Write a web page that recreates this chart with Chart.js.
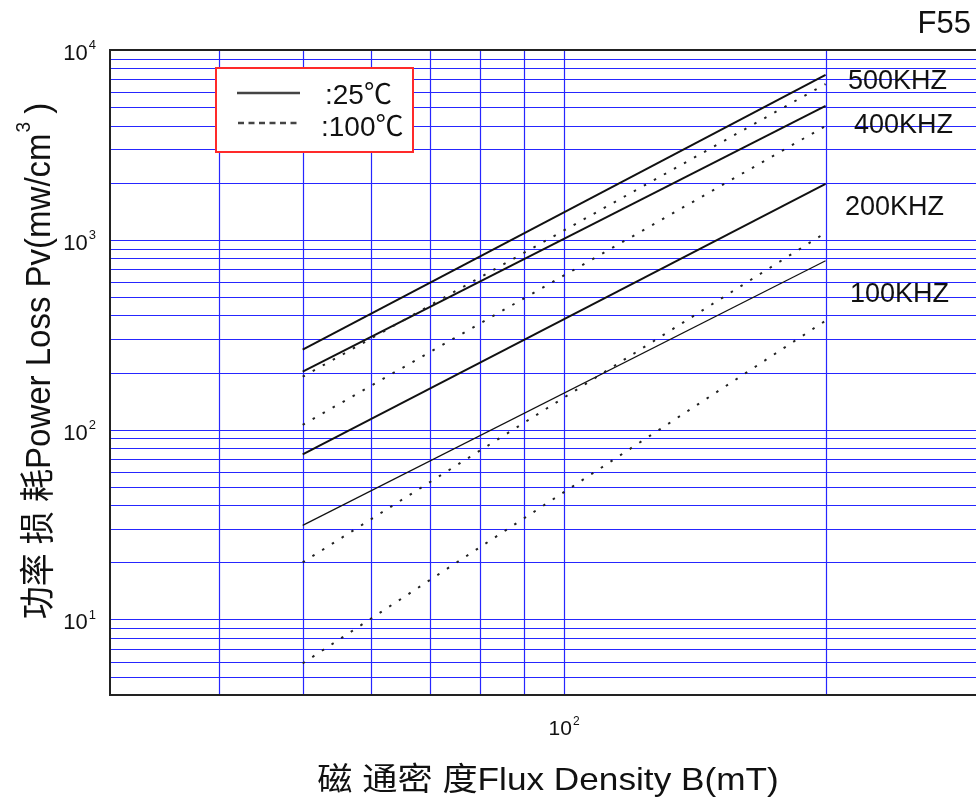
<!DOCTYPE html>
<html>
<head>
<meta charset="utf-8">
<script src="https://cdn.jsdelivr.net/npm/chart.js@4/dist/chart.umd.min.js"></script>
<style>
  html, body { margin: 0; padding: 0; background: #fff; }
  #wrap { width: 976px; height: 803px; position: relative; }
</style>
</head>
<body>
<div id="wrap"><canvas id="grafico"></canvas></div>
<script>
// ==================== DATOS ====================
const fluxB = [50, 200]; // mT

// 25°C (linea continua)
const pv500k_25C = [264, 7390];
const pv400k_25C = [202, 5075];
const pv200k_25C = [74, 1970];
const pv100k_25C = [31.3, 776];

// 100°C (punteada)
const pv500k_100C = [190, 6620];
const pv400k_100C = [106, 3980];
const pv200k_100C = [20, 1090];
const pv100k_100C = [5.87, 375];

const freqLabels = ["500KHZ", "400KHZ", "200KHZ", "100KHZ"];
const legendLabels = [":25\u2103", ":100\u2103"];
const materialName = "F55";

const xGridValues = [40, 50, 60, 70, 80, 90, 100, 200];
const yGridValues = [4, 5, 6, 7, 8, 9,
  10, 20, 30, 40, 50, 60, 70, 80, 90,
  100, 200, 300, 400, 500, 600, 700, 800, 900,
  1000, 2000, 3000, 4000, 5000, 6000, 7000, 8000, 9000, 10000];
const xTickValues = [100];
const xTickBase = ["10"];
const xTickExp = ["2"];
const yTickValues = [10, 100, 1000, 10000];
const yTickBase = ["10", "10", "10", "10"];
const yTickExp = ["1", "2", "3", "4"];

const xTitleText = "磁 通密 度Flux Density B(mT)";
const yTitleText = "功率 损 耗Power Loss Pv(mw/cm";

// ==================== ESTILO ====================
const FONT = "'Liberation Sans', Arial, 'Noto Sans CJK SC', sans-serif";
const GRID = "#2626ff";
const INK = "#111";

function pts(ys) {
  return fluxB.map((b, i) => ({ x: b, y: ys[i] }));
}

function solid(data, w) {
  return { data: pts(data), showLine: true, borderColor: INK, borderWidth: w, pointRadius: 0, fill: false };
}
function dotted(data) {
  return { data: pts(data), showLine: true, borderColor: "#222", borderWidth: 2, borderDash: [2.5, 9], pointRadius: 0, fill: false };
}

// dibuja "10" con exponente
function drawPow(ctx, base, exp, x, y, size, expSize, align) {
  ctx.font = size + "px " + FONT;
  const wb = ctx.measureText(base).width;
  ctx.font = expSize + "px " + FONT;
  const we = ctx.measureText(exp).width;
  let x0 = x;
  if (align === "right") x0 = x - wb - we - 1;
  if (align === "center") x0 = x - (wb + we + 1) / 2;
  ctx.textAlign = "left";
  ctx.textBaseline = "alphabetic";
  ctx.font = size + "px " + FONT;
  ctx.fillText(base, x0, y);
  ctx.font = expSize + "px " + FONT;
  ctx.fillText(exp, x0 + wb + 1, y - size * 0.48);
}

// rejilla azul con los valores de las escalas
const rejilla = {
  id: "rejilla",
  beforeDatasetsDraw(chart) {
    const ctx = chart.ctx;
    const a = chart.chartArea;
    const xs = chart.scales.x, ys = chart.scales.y;
    ctx.save();
    ctx.strokeStyle = GRID;
    ctx.lineWidth = 1.2;
    ctx.beginPath();
    xGridValues.forEach(v => {
      const px = Math.round(xs.getPixelForValue(v)) + 0.5;
      ctx.moveTo(px, a.top);
      ctx.lineTo(px, a.bottom);
    });
    yGridValues.forEach(v => {
      const py = Math.round(ys.getPixelForValue(v)) + 0.5;
      ctx.moveTo(a.left, py);
      ctx.lineTo(a.right, py);
    });
    ctx.stroke();
    ctx.restore();
  }
};

const decoraciones = {
  id: "decoraciones",
  afterDraw(chart) {
    const ctx = chart.ctx;
    const a = chart.chartArea;
    const xs = chart.scales.x, ys = chart.scales.y;
    ctx.save();
    ctx.fillStyle = "#111";

    // marco
    ctx.strokeStyle = "#222";
    ctx.lineWidth = 2;
    ctx.beginPath();
    ctx.moveTo(a.right, a.top);
    ctx.lineTo(a.left, a.top);
    ctx.lineTo(a.left, a.bottom);
    ctx.lineTo(a.right, a.bottom);
    ctx.stroke();

    // ticks Y
    yTickValues.forEach((v, i) => {
      const py = ys.getPixelForValue(v);
      drawPow(ctx, yTickBase[i], yTickExp[i], 96, py + 10, 22, 13, "right");
    });
    // ticks X
    xTickValues.forEach((v, i) => {
      const px = xs.getPixelForValue(v);
      drawPow(ctx, xTickBase[i], xTickExp[i], px, 735, 21, 12, "center");
    });

    // titulo X
    ctx.save();
    ctx.translate(548, 790);
    ctx.scale(1.1, 1);
    ctx.font = "32px " + FONT;
    ctx.textAlign = "center";
    ctx.textBaseline = "alphabetic";
    ctx.fillText(xTitleText, 0, 0);
    ctx.restore();

    // titulo Y
    ctx.save();
    ctx.translate(50, 361);
    ctx.rotate(-Math.PI / 2);
    ctx.scale(1, 1.07);
    ctx.font = "33px " + FONT;
    const w1 = ctx.measureText(yTitleText).width;
    ctx.font = "19px " + FONT;
    const w2 = ctx.measureText("3").width;
    ctx.font = "33px " + FONT;
    const w3 = ctx.measureText(" )").width;
    let x0 = -(w1 + w2 + w3) / 2;
    ctx.textAlign = "left";
    ctx.fillText(yTitleText, x0, 0);
    ctx.font = "19px " + FONT;
    ctx.fillText("3", x0 + w1 + 1, -19);
    ctx.font = "33px " + FONT;
    ctx.fillText(" )", x0 + w1 + w2, 0);
    ctx.restore();

    // leyenda
    ctx.fillStyle = "#fff";
    ctx.fillRect(216, 68, 197, 84);
    ctx.strokeStyle = "#ff2a2a";
    ctx.lineWidth = 2;
    ctx.strokeRect(216, 68, 197, 84);
    ctx.strokeStyle = "#444";
    ctx.lineWidth = 2.5;
    ctx.beginPath();
    ctx.moveTo(237, 93); ctx.lineTo(300, 93);
    ctx.stroke();
    ctx.setLineDash([6, 4.5]);
    ctx.beginPath();
    ctx.moveTo(238, 123); ctx.lineTo(300, 123);
    ctx.stroke();
    ctx.setLineDash([]);
    ctx.fillStyle = "#111";
    ctx.font = "28px " + FONT;
    ctx.textAlign = "left";
    ctx.fillText(legendLabels[0], 325, 104);
    ctx.fillText(legendLabels[1], 321, 136);

    // etiquetas de frecuencia
    const lx = [848, 854, 845, 850];
    const ly = [89, 133, 215, 302];
    ctx.font = "27px " + FONT;
    freqLabels.forEach((t, i) => ctx.fillText(t, lx[i], ly[i]));

    // material
    ctx.font = "31px " + FONT;
    ctx.textAlign = "right";
    ctx.fillText(materialName, 971, 33);

    ctx.restore();
  }
};

// ==================== GRAFICO ====================
document.addEventListener("DOMContentLoaded", () => {
  const ctx = document.getElementById("grafico").getContext("2d");
  new Chart(ctx, {
    type: "scatter",
    data: {
      datasets: [
        dotted(pv500k_100C),
        dotted(pv400k_100C),
        dotted(pv200k_100C),
        dotted(pv100k_100C),
        solid(pv500k_25C, 2),
        solid(pv400k_25C, 2),
        solid(pv200k_25C, 2),
        solid(pv100k_25C, 1.2)
      ]
    },
    options: {
      responsive: true,
      maintainAspectRatio: false,
      animation: false,
      layout: { padding: { top: 50, left: 0, right: 0, bottom: 0 } },
      plugins: { legend: { display: false }, tooltip: { enabled: false } },
      scales: {
        x: {
          type: "logarithmic",
          min: 30,
          max: 298,
          afterBuildTicks: s => { s.ticks = xGridValues.map(v => ({ value: v })); },
          afterFit: s => { s.height = 108; },
          ticks: { display: false },
          border: { display: false },
          grid: { display: false }
        },
        y: {
          type: "logarithmic",
          min: 4,
          max: 10000,
          afterBuildTicks: s => { s.ticks = yGridValues.map(v => ({ value: v })); },
          afterFit: s => { s.width = 110; },
          ticks: { display: false },
          border: { display: false },
          grid: { display: false }
        }
      }
    },
    plugins: [rejilla, decoraciones]
  });
});
</script>
</body>
</html>
